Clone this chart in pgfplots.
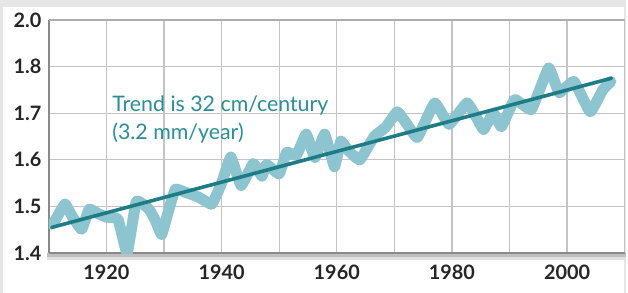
\documentclass[border=0pt]{standalone}
\usepackage{fontspec}
\setmainfont{Lato}
\usepackage{pgfplots}
\pgfplotsset{compat=1.18}
\definecolor{bgrey}{HTML}{E6E6E6}
\definecolor{gridc}{HTML}{C4C4C4}
\definecolor{axc}{HTML}{8A8A8A}
\definecolor{data}{HTML}{8CC5D0}
\definecolor{trend}{HTML}{1E7C86}
\definecolor{txt}{HTML}{2A8E98}
\begin{document}
\begin{tikzpicture}[x=1bp,y=1bp]
\fill[bgrey] (0,0) rectangle (628,294);
\fill[white] (3,0) rectangle (626,287);
\fill[black!25] (47,36) rectangle (628,40);
\fill[black!12] (47,33) rectangle (628,36);
\begin{axis}[
  at={(49bp,40bp)}, anchor=south west,
  scale only axis, width=578bp, height=234bp,
  xmin=1910, xmax=2010, ymin=1.4, ymax=1.9,
  xtick={1910,1920,...,2010},
  xticklabels={,1920,,1940,,1960,,1980,,2000,},
  ytick={1.4,1.5,...,1.9},
  yticklabels={1.4,1.5,1.6,1.7,1.8,2.0},
  major tick length=0pt,
  grid=major,
  grid style={gridc, line width=1.3bp},
  axis x line*=bottom, axis y line*=left,
  x axis line style={axc, line width=2.8bp, -},
  y axis line style={axc, line width=2.2bp, -},
  tick label style={font=\fontsize{20}{20}\selectfont\bfseries, text=black!85},
  /pgf/number format/assume math mode=true,
  xticklabel style={yshift=-8bp},
  yticklabel style={xshift=-4bp},
  clip=true,
]
\draw[axc!70, line width=1.5bp] (rel axis cs:0,1) -- (rel axis cs:1,1);
\addplot[data, line width=11bp, line join=round, line cap=round, smooth, tension=0.2] coordinates {
(1910.5,1.462) (1911,1.468) (1912.8,1.505) (1914,1.48) (1915.7,1.451)
(1917,1.494) (1918.5,1.485) (1920,1.477) (1922,1.473) (1923.6,1.40)
(1925.2,1.511) (1927.4,1.494) (1928.5,1.47) (1929.6,1.44) (1931,1.50)
(1932,1.537) (1933.8,1.53) (1936,1.52) (1938.3,1.505) (1940,1.55)
(1941.6,1.606) (1943.4,1.545) (1945.5,1.592) (1947,1.565) (1947.8,1.59)
(1950,1.57) (1951.3,1.616) (1953,1.61) (1954.7,1.655) (1956.2,1.605)
(1957.9,1.655) (1959.6,1.585) (1960.7,1.64) (1962,1.62) (1964,1.60)
(1966.5,1.65) (1968.5,1.67) (1970.5,1.703) (1972,1.68) (1974,1.648)
(1977,1.722) (1979.5,1.676) (1982.6,1.722) (1984.3,1.69) (1985.5,1.665)
(1987.2,1.70) (1988.6,1.671) (1990.9,1.729) (1993.8,1.708) (1996.8,1.797)
(1998.6,1.744) (2001.2,1.768) (2004,1.703) (2006.2,1.75) (2007.6,1.768)
};
\addplot[trend, line width=3.6bp, line cap=round] coordinates {(1910.5,1.455) (2007.7,1.775)};
\node[anchor=base west, text=txt, font=\fontsize{21.5}{21.5}\selectfont, inner sep=0pt] at (axis cs:1921.0,1.703) {Trend is 32 cm/century};
\node[anchor=base west, text=txt, font=\fontsize{21.5}{21.5}\selectfont, inner sep=0pt] at (axis cs:1921.0,1.643) {(3.2 mm/year)};
\end{axis}
\end{tikzpicture}
\end{document}
